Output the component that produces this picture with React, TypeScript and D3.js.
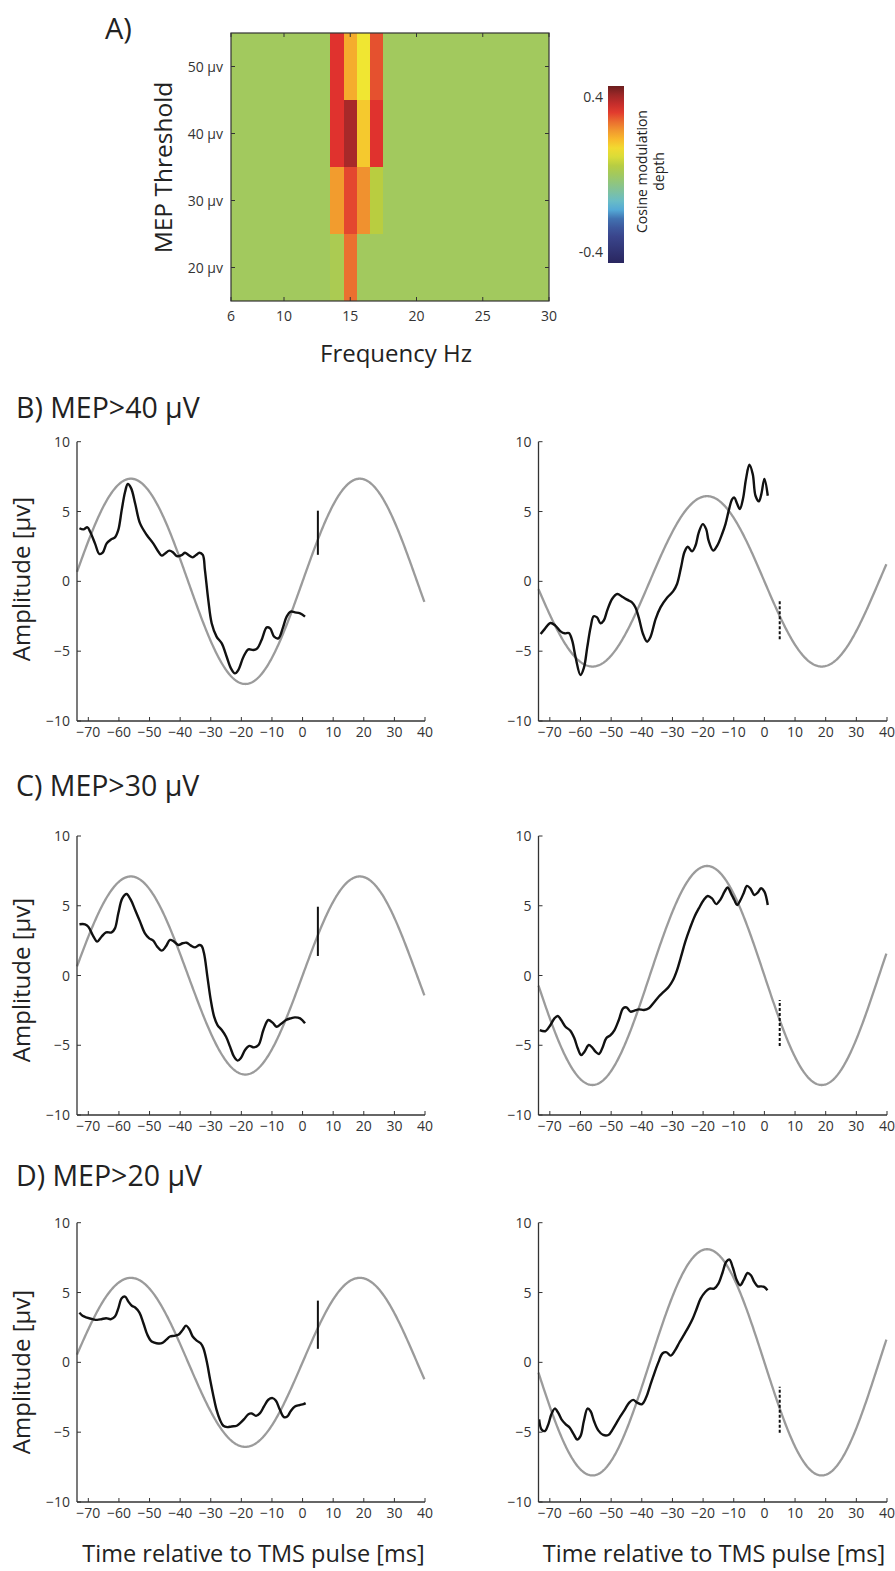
import React from 'react';
import * as d3 from 'd3';

// ---------- Panel A: cosine modulation depth by frequency and MEP threshold ----------
const frequencies = [6, 7, 8, 9, 10, 11, 12, 13, 14, 15, 16, 17, 18, 19, 20, 21, 22, 23, 24, 25, 26, 27, 28, 29, 30];
const thresholds = [20, 30, 40, 50];
const depth20 = [0, 0, 0, 0, 0, 0, 0, 0, 0.02, 0.27, 0, 0, 0, 0, 0, 0, 0, 0, 0, 0, 0, 0, 0, 0, 0];
const depth30 = [0, 0, 0, 0, 0, 0, 0, 0, 0.22, 0.31, 0.235, 0.05, 0, 0, 0, 0, 0, 0, 0, 0, 0, 0, 0, 0, 0];
const depth40 = [0, 0, 0, 0, 0, 0, 0, 0, 0.33, 0.4, 0.16, 0.33, 0, 0, 0, 0, 0, 0, 0, 0, 0, 0, 0, 0, 0];
const depth50 = [0, 0, 0, 0, 0, 0, 0, 0, 0.33, 0.2, 0.12, 0.3, 0, 0, 0, 0, 0, 0, 0, 0, 0, 0, 0, 0, 0];
const depthRows = [depth20, depth30, depth40, depth50];
const freqTicks = [6, 10, 15, 20, 25, 30];
const colorbarTicks = [0.4, -0.4];

// ---------- Panels B–D: averaged traces (time ms, amplitude µV) ----------
const timeTicks = [-70, -60, -50, -40, -30, -20, -10, 0, 10, 20, 30, 40];
const ampTicks = [-10, -5, 0, 5, 10];
const headings = ['B) MEP>40 µV', 'C) MEP>30 µV', 'D) MEP>20 µV'];

const traceB1: [number, number][] = [
  [-72.9, 3.8], [-71.6, 3.72], [-70.3, 3.87], [-69.4, 3.55], [-67.8, 2.7], [-66.4, 1.96], [-65.3, 2.05],
  [-64.0, 2.72], [-62.6, 3.0], [-61.3, 3.15], [-60.2, 3.68], [-59.1, 5.1], [-58.0, 6.4], [-57.1, 6.97],
  [-56.0, 6.66], [-54.7, 5.58], [-53.1, 4.15], [-50.9, 3.32], [-48.8, 2.72], [-47.1, 2.12], [-46.0, 1.84],
  [-44.9, 2.0], [-43.5, 2.2], [-42.2, 2.05], [-41.1, 1.81], [-39.5, 1.88], [-38.4, 2.05], [-37.3, 1.88],
  [-35.9, 1.72], [-34.8, 1.88], [-33.7, 2.05], [-32.6, 1.89], [-31.9, 0.81], [-30.8, -1.34], [-29.7, -3.0],
  [-28.1, -3.96], [-26.4, -4.44], [-24.8, -5.4], [-23.4, -6.23], [-22.1, -6.59], [-21.0, -6.35],
  [-19.3, -5.4], [-17.7, -4.87], [-16.1, -4.92], [-14.8, -4.8], [-13.4, -4.2], [-11.7, -3.3], [-10.6, -3.37],
  [-9.3, -3.96], [-7.9, -4.08], [-6.5, -3.37], [-5.2, -2.53], [-3.9, -2.17], [-2.5, -2.22], [-0.8, -2.29],
  [0.8, -2.53],
];
const traceB2: [number, number][] = [
  [-73.0, -3.77], [-71.7, -3.42], [-69.8, -2.98], [-68.2, -3.17], [-66.5, -3.58], [-65.2, -3.72],
  [-63.8, -3.7], [-62.7, -4.25], [-61.6, -5.44], [-60.0, -6.71], [-58.9, -6.2], [-57.8, -4.73],
  [-56.7, -3.29], [-55.7, -2.5], [-54.6, -2.58], [-53.5, -3.0], [-52.4, -2.8], [-51.3, -2.1], [-49.7, -1.26],
  [-48.0, -0.91], [-46.4, -1.1], [-44.8, -1.31], [-43.2, -1.5], [-42.1, -1.86], [-41.0, -2.58],
  [-39.6, -3.77], [-38.3, -4.32], [-37.2, -4.0], [-35.5, -2.7], [-33.9, -1.86], [-31.7, -1.15],
  [-29.8, -0.72], [-28.5, -0.19], [-27.2, 1.0], [-26.1, 2.08], [-25.0, 2.48], [-23.6, 2.15], [-22.5, 2.55],
  [-21.4, 3.51], [-20.1, 4.1], [-19.0, 3.74], [-18.2, 2.91], [-16.7, 2.2], [-15.4, 2.55], [-13.8, 3.39],
  [-12.7, 4.1], [-11.6, 5.1], [-10.5, 5.89], [-9.8, 6.0], [-8.9, 5.55], [-8.0, 5.18], [-7.0, 5.89],
  [-6.0, 7.33], [-4.9, 8.35], [-3.8, 7.68], [-2.9, 6.13], [-1.8, 5.73], [-1.0, 6.25], [0.0, 7.33], [1.1, 6.13],
];
const traceC1: [number, number][] = [
  [-72.9, 3.67], [-71.1, 3.67], [-70.0, 3.5], [-68.4, 2.83], [-67.1, 2.43], [-65.7, 2.78], [-64.2, 3.09],
  [-62.4, 3.09], [-61.3, 3.38], [-60.2, 4.46], [-58.9, 5.53], [-57.5, 5.84], [-56.2, 5.45], [-54.7, 4.7],
  [-53.1, 3.86], [-51.5, 3.02], [-50.1, 2.66], [-48.8, 2.5], [-47.5, 2.07], [-46.0, 1.78], [-44.7, 2.07],
  [-43.3, 2.55], [-42.0, 2.43], [-40.6, 2.19], [-39.2, 2.31], [-37.9, 2.35], [-36.6, 2.16], [-35.1, 2.02],
  [-33.8, 2.19], [-33.0, 2.12], [-32.2, 1.59], [-31.1, -0.08], [-30.0, -1.76], [-28.9, -2.95],
  [-27.8, -3.55], [-26.4, -3.91], [-25.0, -4.39], [-23.7, -5.1], [-22.4, -5.82], [-21.2, -6.1],
  [-20.2, -5.93], [-18.8, -5.34], [-17.4, -5.05], [-15.9, -5.15], [-14.4, -4.98], [-12.8, -3.91],
  [-11.2, -3.19], [-9.8, -3.38], [-8.5, -3.67], [-7.1, -3.48], [-5.4, -3.19], [-3.9, -3.07], [-2.5, -3.0],
  [-0.8, -3.07], [0.8, -3.43],
];
const traceC2: [number, number][] = [
  [-73.3, -3.91], [-71.4, -3.98], [-69.8, -3.55], [-68.5, -3.07], [-67.4, -2.9], [-66.3, -3.19],
  [-64.9, -3.67], [-63.3, -3.96], [-62.0, -4.5], [-60.9, -5.22], [-59.8, -5.7], [-58.7, -5.46],
  [-57.3, -4.98], [-56.2, -5.15], [-55.1, -5.46], [-54.0, -5.63], [-52.9, -5.22], [-51.6, -4.5],
  [-50.2, -4.27], [-48.9, -3.91], [-47.5, -3.19], [-46.1, -2.35], [-45.0, -2.28], [-43.7, -2.59],
  [-42.4, -2.52], [-41.0, -2.43], [-39.3, -2.47], [-37.7, -2.35], [-36.1, -1.95], [-34.5, -1.52],
  [-32.8, -1.16], [-31.2, -0.8], [-29.8, -0.32], [-28.5, 0.39], [-27.2, 1.35], [-25.8, 2.43],
  [-24.3, 3.38], [-22.8, 4.22], [-21.4, 4.81], [-19.8, 5.41], [-18.5, 5.7], [-17.1, 5.53], [-15.7, 5.12],
  [-14.3, 5.46], [-13.0, 6.01], [-12.0, 6.32], [-10.9, 5.89], [-9.8, 5.41], [-8.9, 5.05], [-7.8, 5.41],
  [-6.7, 5.94], [-5.7, 6.42], [-4.6, 6.25], [-3.3, 5.77], [-2.2, 5.94], [-1.1, 6.25], [0.0, 6.01], [1.1, 5.05],
];
const traceD1: [number, number][] = [
  [-72.9, 3.56], [-71.9, 3.33], [-70.4, 3.2], [-68.6, 3.09], [-67.1, 3.04], [-65.7, 3.09], [-64.2, 3.16],
  [-62.7, 3.09], [-61.3, 3.28], [-60.2, 3.87], [-59.1, 4.59], [-58.0, 4.71], [-56.9, 4.35], [-55.8, 4.05],
  [-54.7, 3.93], [-53.3, 3.56], [-52.0, 2.8], [-50.7, 1.97], [-49.3, 1.49], [-47.7, 1.37], [-46.0, 1.37],
  [-44.6, 1.61], [-43.3, 1.85], [-42.0, 1.9], [-40.6, 1.97], [-39.2, 2.32], [-38.1, 2.63], [-37.0, 2.37],
  [-35.9, 1.85], [-34.6, 1.56], [-33.3, 1.37], [-32.4, 1.01], [-31.3, 0.06], [-30.2, -1.25], [-29.1, -2.44],
  [-28.1, -3.4], [-27.0, -4.11], [-25.9, -4.54], [-24.6, -4.64], [-23.2, -4.59], [-21.5, -4.54],
  [-20.4, -4.35], [-19.1, -4.07], [-17.7, -3.71], [-16.6, -3.66], [-15.2, -3.83], [-13.9, -3.64],
  [-12.6, -3.16], [-11.2, -2.68], [-9.8, -2.56], [-8.7, -2.75], [-7.4, -3.4], [-6.1, -3.92], [-5.0, -3.88],
  [-3.9, -3.5], [-2.5, -3.16], [-1.0, -3.06], [0.3, -2.99], [1.0, -2.92],
];
const traceD2: [number, number][] = [
  [-73.5, -4.08], [-72.7, -4.8], [-71.6, -4.92], [-70.5, -4.44], [-69.5, -3.72], [-68.4, -3.31],
  [-67.3, -3.6], [-66.2, -4.08], [-64.8, -4.44], [-63.5, -4.68], [-62.2, -5.16], [-61.1, -5.52],
  [-60.0, -5.28], [-58.9, -4.2], [-57.7, -3.31], [-56.7, -3.5], [-55.6, -4.2], [-54.2, -4.87],
  [-52.6, -5.2], [-50.9, -5.2], [-49.5, -4.8], [-48.2, -4.32], [-46.9, -3.84], [-45.5, -3.36],
  [-44.1, -2.88], [-42.8, -2.69], [-41.5, -2.88], [-40.0, -3.0], [-38.6, -2.52], [-37.3, -1.68],
  [-36.0, -0.84], [-34.6, 0.0], [-33.2, 0.65], [-31.9, 0.72], [-30.6, 0.48], [-29.2, 0.84], [-27.7, 1.44],
  [-26.2, 1.99], [-24.8, 2.52], [-23.4, 3.12], [-22.1, 3.84], [-20.8, 4.56], [-19.3, 5.04], [-17.9, 5.28],
  [-16.4, 5.28], [-15.0, 5.64], [-13.6, 6.47], [-12.5, 7.19], [-11.4, 7.36], [-10.3, 6.79], [-9.0, 5.88],
  [-7.9, 5.52], [-6.8, 5.88], [-5.5, 6.4], [-4.4, 6.24], [-3.3, 5.76], [-2.2, 5.44], [-1.2, 5.44],
  [-0.1, 5.4], [1.0, 5.16],
];
const traces = [traceB1, traceB2, traceC1, traceC2, traceD1, traceD2];

// Fitted cosine for each panel (amplitude µV; negative = opposite phase)
const cosineAmplitude = [7.35, -6.1, 7.1, -7.85, 6.05, -8.1];
const cosineFreqHz = 13.37;
const cosinePeakMs = 18.7;

// TMS pulse marker at +5 ms: [low, high] µV
const markerTime = 5;
const markerLow = [1.9, -4.15, 1.4, -5.05, 0.97, -5.04];
const markerHigh = [5.06, -1.38, 4.93, -1.76, 4.42, -1.75];

const FONT = "'Open Sans', 'Noto Sans', sans-serif";
const AXIS = '#333';

const depthColor = d3
  .scaleLinear<string>()
  .domain([-0.457, -0.3, -0.23, -0.17, -0.1, 0, 0.05, 0.12, 0.18, 0.25, 0.33, 0.4, 0.457])
  .range(['#29265f', '#3c4a92', '#4070b0', '#5ab8e0', '#79c0a8', '#a2c95e', '#b9cd40', '#f0e632', '#f8bb2c', '#ee8530', '#e0322e', '#a82929', '#6b1e1e'])
  .interpolate(d3.interpolateRgb)
  .clamp(true);

function Heatmap() {
  const x = d3.scaleLinear().domain([6, 30]).range([231, 549]);
  const y = d3.scaleLinear().domain([15, 55]).range([301, 33]);
  const cells: JSX.Element[] = [];
  thresholds.forEach((th, ri) => {
    frequencies.forEach((f, ci) => {
      const x0 = x(Math.max(6, f - 0.5));
      const x1 = x(Math.min(30, f + 0.5));
      cells.push(
        <rect key={`${th}-${f}`} x={x0} y={y(th + 5)} width={x1 - x0} height={y(th - 5) - y(th + 5)}
          fill={depthColor(depthRows[ri][ci])} shapeRendering="crispEdges" />
      );
    });
  });
  const cb = d3.scaleLinear().domain([-0.457, 0.457]).range([263, 86]);
  const stops = d3.range(0, 1.0001, 0.05);
  return (
    <g>
      <defs>
        <linearGradient id="cbar" x1="0" y1="1" x2="0" y2="0">
          {stops.map((s) => (
            <stop key={s} offset={s} stopColor={depthColor(-0.457 + s * 0.914)} />
          ))}
        </linearGradient>
      </defs>
      <rect x={231} y={33} width={318} height={268} fill={depthColor(0)} />
      {cells}
      <rect x={231} y={33} width={318} height={268} fill="none" stroke={AXIS} strokeWidth={1.2} />
      {freqTicks.map((t) => (
        <g key={t}>
          <line x1={x(t)} x2={x(t)} y1={301} y2={297} stroke={AXIS} strokeWidth={1} />
          <line x1={x(t)} x2={x(t)} y1={33} y2={37} stroke={AXIS} strokeWidth={1} />
          <text x={x(t)} y={321} textAnchor="middle" fontSize={14} fontFamily={FONT} fill="#333">{t}</text>
        </g>
      ))}
      {thresholds.map((t) => (
        <g key={t}>
          <line x1={231} x2={235} y1={y(t)} y2={y(t)} stroke={AXIS} strokeWidth={1} />
          <line x1={549} x2={545} y1={y(t)} y2={y(t)} stroke={AXIS} strokeWidth={1} />
          <text x={223} y={y(t) + 5} textAnchor="end" fontSize={14} fontFamily={FONT} fill="#333">{`${t} µv`}</text>
        </g>
      ))}
      <text x={105} y={39} fontSize={29} fontFamily={FONT} fill="#222">A)</text>
      <text transform="translate(172,167.5) rotate(-90)" textAnchor="middle" fontSize={24.5} fontFamily={FONT} fill="#222">MEP Threshold</text>
      <text x={396} y={362} textAnchor="middle" fontSize={24} fontFamily={FONT} fill="#222">Frequency Hz</text>
      <rect x={608} y={86} width={16} height={177} fill="url(#cbar)" />
      {colorbarTicks.map((t) => (
        <text key={t} x={603} y={cb(t) + 5} textAnchor="end" fontSize={14} fontFamily={FONT} fill="#333">{t}</text>
      ))}
      <text transform="translate(647,171.5) rotate(-90)" textAnchor="middle" fontSize={14} fontFamily={FONT} fill="#222">Cosine modulation</text>
      <text transform="translate(664,171.5) rotate(-90)" textAnchor="middle" fontSize={14} fontFamily={FONT} fill="#222">depth</text>
    </g>
  );
}

const fmt = (v: number) => (v < 0 ? `\u2212${Math.abs(v)}` : `${v}`);

function TracePanel({ idx, left, right, top, bottom }: { idx: number; left: number; right: number; top: number; bottom: number }) {
  const x = d3.scaleLinear().domain([-73.7, 40]).range([left, right]);
  const y = d3.scaleLinear().domain([-10, 10]).range([bottom, top]);
  const sineTimes = d3.range(-73.7, 40.001, 0.25);
  const amp = cosineAmplitude[idx];
  const sine = sineTimes.map((t) => [t, amp * Math.cos((2 * Math.PI * cosineFreqHz * (t - cosinePeakMs)) / 1000)] as [number, number]);
  const line = d3.line<[number, number]>().x((d) => x(d[0])).y((d) => y(d[1]));
  const smooth = d3.line<[number, number]>().x((d) => x(d[0])).y((d) => y(d[1])).curve(d3.curveCatmullRom.alpha(0.5));
  const dashed = idx % 2 === 1;
  return (
    <g>
      <path d={line(sine) ?? ''} fill="none" stroke="#9b9b9b" strokeWidth={2.3} />
      <path d={smooth(traces[idx]) ?? ''} fill="none" stroke="#111" strokeWidth={2.4} strokeLinejoin="round" />
      <line x1={x(markerTime)} x2={x(markerTime)} y1={y(markerLow[idx])} y2={y(markerHigh[idx])}
        stroke="#111" strokeWidth={2} strokeDasharray={dashed ? '3,2' : undefined} />
      <line x1={left} x2={left} y1={top} y2={bottom} stroke={AXIS} strokeWidth={1.3} />
      <line x1={left} x2={right} y1={bottom} y2={bottom} stroke={AXIS} strokeWidth={1.3} />
      {ampTicks.map((t) => (
        <g key={t}>
          <line x1={left} x2={left + 4} y1={y(t)} y2={y(t)} stroke={AXIS} strokeWidth={1} />
          <text x={left - 7} y={y(t) + 5} textAnchor="end" fontSize={14} fontFamily={FONT} fill="#333">{fmt(t)}</text>
        </g>
      ))}
      {timeTicks.map((t) => (
        <g key={t}>
          <line x1={x(t)} x2={x(t)} y1={bottom} y2={bottom - 4} stroke={AXIS} strokeWidth={1} />
          <text x={x(t)} y={bottom + 16} textAnchor="middle" fontSize={14} fontFamily={FONT} fill="#333">{fmt(t)}</text>
        </g>
      ))}
    </g>
  );
}

export default function App() {
  const rowTops = [441.7, 836, 1222.7];
  const rowBottoms = [721, 1115, 1502];
  const headingBaselines = [418, 796, 1186];
  const ampLabelY = [579, 980, 1372];
  return (
    <svg width={895} height={1571} viewBox="0 0 895 1571" style={{ position: 'absolute', left: 0, top: 0, background: '#fff' }}>
      <rect width={895} height={1571} fill="#fff" />
      <Heatmap />
      {headings.map((h, r) => (
        <g key={h}>
          <text x={16} y={headingBaselines[r]} fontSize={28.5} fontFamily={FONT} fill="#222">{h}</text>
          <text transform={`translate(30,${ampLabelY[r]}) rotate(-90)`} textAnchor="middle" fontSize={24} fontFamily={FONT} fill="#222">Amplitude [µv]</text>
          <TracePanel idx={r * 2} left={77} right={425} top={rowTops[r]} bottom={rowBottoms[r]} />
          <TracePanel idx={r * 2 + 1} left={538.5} right={887} top={rowTops[r]} bottom={rowBottoms[r]} />
        </g>
      ))}
      <text x={253.5} y={1562} textAnchor="middle" fontSize={23.5} fontFamily={FONT} fill="#222">Time relative to TMS pulse [ms]</text>
      <text x={714} y={1562} textAnchor="middle" fontSize={23.5} fontFamily={FONT} fill="#222">Time relative to TMS pulse [ms]</text>
    </svg>
  );
}
